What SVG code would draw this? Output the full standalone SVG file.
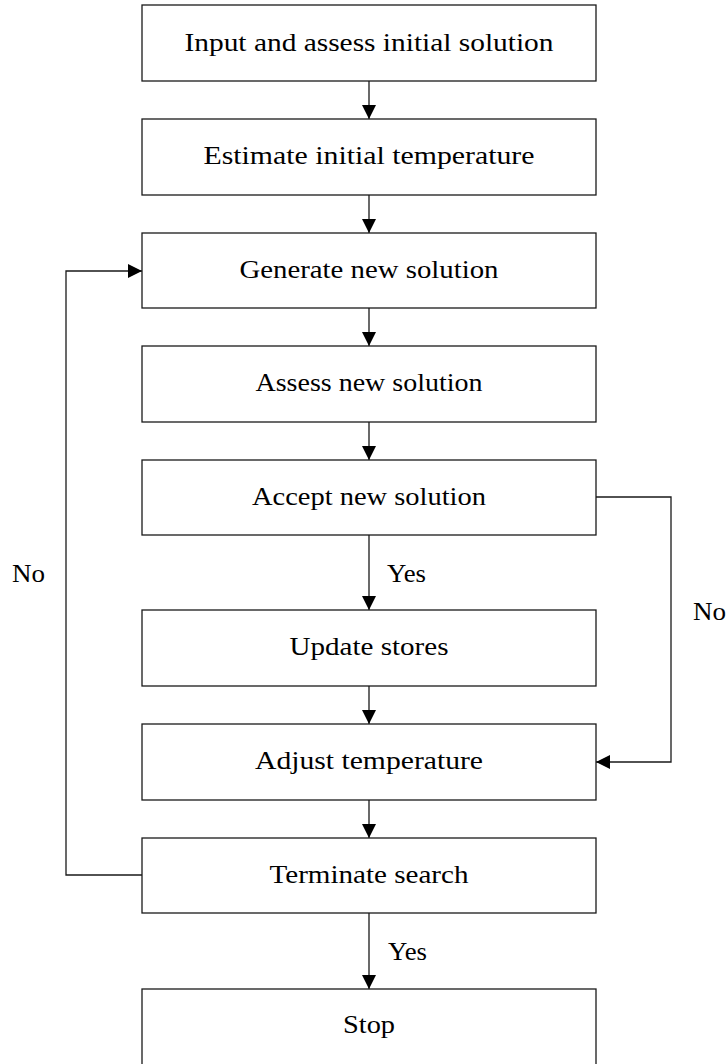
<svg xmlns="http://www.w3.org/2000/svg" width="726" height="1064" viewBox="0 0 726 1064">
<style>
.box{fill:#fff;stroke:#1a1a1a;stroke-width:1.3}
.ln{fill:none;stroke:#1a1a1a;stroke-width:1.3}
.t{font-family:"Liberation Serif","Times New Roman",serif;font-size:25px;fill:#000}
.c{text-anchor:middle}
</style>
<defs>
<marker id="ah" markerUnits="userSpaceOnUse" markerWidth="15" markerHeight="15" refX="14" refY="7" orient="auto">
<path d="M0,0 L14,7 L0,14 Z" fill="#000"/>
</marker>
</defs>
<rect width="726" height="1064" fill="#fff"/>
<g id="connectors">
<line class="ln" x1="369" y1="81" x2="369" y2="119" marker-end="url(#ah)"/>
<line class="ln" x1="369" y1="195" x2="369" y2="233" marker-end="url(#ah)"/>
<line class="ln" x1="369" y1="308" x2="369" y2="346" marker-end="url(#ah)"/>
<line class="ln" x1="369" y1="422" x2="369" y2="460" marker-end="url(#ah)"/>
<line class="ln" x1="369" y1="535" x2="369" y2="610" marker-end="url(#ah)"/>
<line class="ln" x1="369" y1="686" x2="369" y2="724" marker-end="url(#ah)"/>
<line class="ln" x1="369" y1="800" x2="369" y2="838" marker-end="url(#ah)"/>
<line class="ln" x1="369" y1="913" x2="369" y2="989" marker-end="url(#ah)"/>
<polyline class="ln" points="596,497 671,497 671,762 596,762" marker-end="url(#ah)"/>
<polyline class="ln" points="142,875 66,875 66,271 142,271" marker-end="url(#ah)"/>
<text class="t" x="387" y="582" textLength="39" lengthAdjust="spacingAndGlyphs">Yes</text>
<text class="t" x="388" y="960" textLength="39" lengthAdjust="spacingAndGlyphs">Yes</text>
<text class="t" x="12" y="582" textLength="33" lengthAdjust="spacingAndGlyphs">No</text>
<text class="t" x="693" y="620" textLength="33" lengthAdjust="spacingAndGlyphs">No</text>
</g>
<g id="n1"><rect class="box" x="142" y="5" width="454" height="76"/><text class="t c" x="369" y="51" textLength="369" lengthAdjust="spacingAndGlyphs">Input and assess initial solution</text></g>
<g id="n2"><rect class="box" x="142" y="119" width="454" height="76"/><text class="t c" x="369" y="164" textLength="331" lengthAdjust="spacingAndGlyphs">Estimate initial temperature</text></g>
<g id="n3"><rect class="box" x="142" y="233" width="454" height="75"/><text class="t c" x="369" y="278" textLength="259" lengthAdjust="spacingAndGlyphs">Generate new solution</text></g>
<g id="n4"><rect class="box" x="142" y="346" width="454" height="76"/><text class="t c" x="369" y="391" textLength="227" lengthAdjust="spacingAndGlyphs">Assess new solution</text></g>
<g id="n5"><rect class="box" x="142" y="460" width="454" height="75"/><text class="t c" x="369" y="505" textLength="234" lengthAdjust="spacingAndGlyphs">Accept new solution</text></g>
<g id="n6"><rect class="box" x="142" y="610" width="454" height="76"/><text class="t c" x="369" y="655" textLength="159" lengthAdjust="spacingAndGlyphs">Update stores</text></g>
<g id="n7"><rect class="box" x="142" y="724" width="454" height="76"/><text class="t c" x="369" y="769" textLength="228" lengthAdjust="spacingAndGlyphs">Adjust temperature</text></g>
<g id="n8"><rect class="box" x="142" y="838" width="454" height="75"/><text class="t c" x="369" y="883" textLength="199" lengthAdjust="spacingAndGlyphs">Terminate search</text></g>
<g id="n9"><rect class="box" x="142" y="989" width="454" height="76"/><text class="t c" x="369" y="1033" textLength="52" lengthAdjust="spacingAndGlyphs">Stop</text></g>
</svg>
